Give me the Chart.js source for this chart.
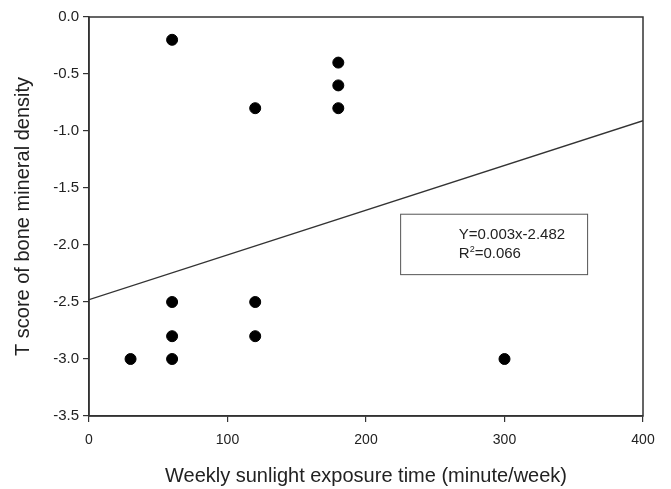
<!DOCTYPE html>
<html>
<head>
<meta charset="utf-8">
<script src="https://cdn.jsdelivr.net/npm/chart.js@4/dist/chart.umd.min.js"></script>
<style>
  html, body { margin: 0; padding: 0; background: #fff; }
  #wrap { width: 671px; height: 489px; }
</style>
</head>
<body>
<div id="wrap"><canvas id="chart"></canvas></div>
<script>
// measured points (minute/week, T score)
const exposure = [30, 60, 60, 60, 60, 120, 120, 120, 180, 180, 180, 300];
const tScore   = [-3.0, -0.2, -2.5, -2.8, -3.0, -0.8, -2.5, -2.8, -0.4, -0.6, -0.8, -3.0];

// fitted line, as drawn
const fitX = [0, 400];
const fitY = [-2.48, -0.91];

const xTicks = [0, 100, 200, 300, 400];
const yTicks = [0, -0.5, -1, -1.5, -2, -2.5, -3, -3.5];

const eqLines = ['Y=0.003x-2.482', 'R', '=0.066'];

const ink = '#222';
const font = 'Arial, "Liberation Sans", sans-serif';

// frame around plot + equation box
const framePlugin = {
    id: 'frame',
    afterDraw(chart) {
        const { ctx, chartArea: a, scales: { x, y } } = chart;
        ctx.save();
        ctx.strokeStyle = '#333';
        ctx.lineWidth = 1.5;
        ctx.strokeRect(a.left, a.top, a.right - a.left, a.bottom - a.top);

        // equation box
        const bx1 = x.getPixelForValue(225), bx2 = x.getPixelForValue(360);
        const by1 = y.getPixelForValue(-1.73), by2 = y.getPixelForValue(-2.26);
        ctx.lineWidth = 1;
        ctx.strokeStyle = '#555';
        ctx.strokeRect(bx1, by1, bx2 - bx1, by2 - by1);

        ctx.fillStyle = ink;
        ctx.font = '15px ' + font;
        ctx.textBaseline = 'middle';
        const tx = x.getPixelForValue(267);
        ctx.fillText(eqLines[0], tx, y.getPixelForValue(-1.91));
        const ry = y.getPixelForValue(-2.08);
        ctx.fillText(eqLines[1], tx, ry);
        const rw = ctx.measureText(eqLines[1]).width;
        ctx.font = '9px ' + font;
        ctx.fillText('2', tx + rw, ry - 5);
        const sw = ctx.measureText('2').width;
        ctx.font = '15px ' + font;
        ctx.fillText(eqLines[2], tx + rw + sw, ry);
        ctx.restore();
    }
};

new Chart(document.getElementById('chart'), {
    type: 'scatter',
    data: {
        datasets: [
            {
                label: 'points',
                data: exposure.map((v, i) => ({ x: v, y: tScore[i] })),
                backgroundColor: '#000',
                borderColor: '#000',
                pointRadius: 5.5,
                pointHoverRadius: 5.5
            },
            {
                label: 'fit',
                type: 'line',
                data: fitX.map((v, i) => ({ x: v, y: fitY[i] })),
                borderColor: '#333',
                borderWidth: 1.3,
                pointRadius: 0,
                fill: false
            }
        ]
    },
    options: {
        responsive: true,
        maintainAspectRatio: false,
        animation: false,
        layout: { padding: { top: 17, right: 28, left: 0, bottom: 0 } },
        plugins: { legend: { display: false }, tooltip: { enabled: false } },
        scales: {
            x: {
                type: 'linear',
                min: 0, max: 400,
                afterBuildTicks: s => { s.ticks = xTicks.map(v => ({ value: v })); },
                afterFit: s => { s.height = 73; },
                border: { color: '#333', width: 1.5 },
                grid: { drawOnChartArea: false, tickLength: 6, color: '#333', lineWidth: 1.2 },
                ticks: { color: ink, font: { family: font, size: 14 }, padding: 10 },
                title: {
                    display: true,
                    text: 'Weekly sunlight exposure time (minute/week)',
                    color: ink,
                    font: { family: font, size: 20 },
                    padding: { top: 0, bottom: 1 }
                }
            },
            y: {
                type: 'linear',
                min: -3.5, max: 0,
                afterBuildTicks: s => { s.ticks = yTicks.map(v => ({ value: v })); },
                afterFit: s => { s.width = 89; },
                border: { color: '#333', width: 1.5 },
                grid: { drawOnChartArea: false, tickLength: 6, color: '#333', lineWidth: 1.2 },
                ticks: { color: ink, font: { family: font, size: 15 }, padding: 4, callback: v => v.toFixed(1) },
                title: {
                    display: true,
                    text: 'T score of bone mineral density',
                    color: ink,
                    font: { family: font, size: 20 },
                    padding: { top: 11, bottom: 0 }
                }
            }
        }
    },
    plugins: [framePlugin]
});
</script>
</body>
</html>
